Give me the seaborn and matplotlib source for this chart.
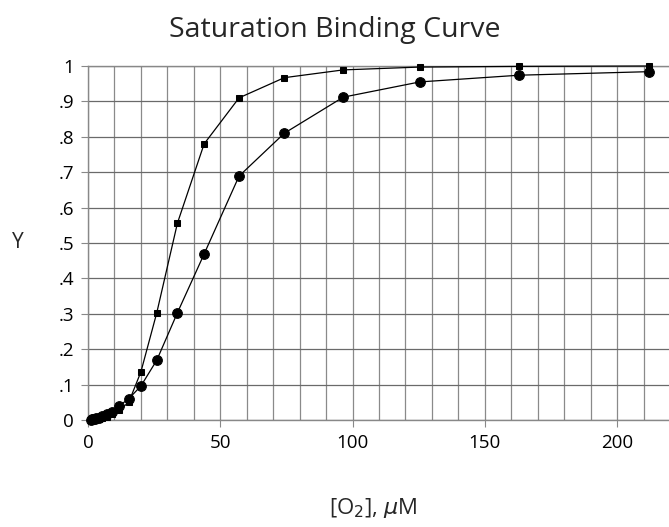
import matplotlib
matplotlib.use("Agg")
import matplotlib.pyplot as plt
import seaborn as sns
import pandas as pd

# ---- data ----
o2_conc = [1.1, 1.5, 1.9, 2.5, 3.2, 4.1, 5.4, 7.0, 9.1, 11.8, 15.4, 20.0,
           26.0, 33.8, 43.9, 57.1, 74.2, 96.5, 125.4, 163.0, 212.0]
y_squares = [0.0002, 0.0004, 0.0007, 0.001, 0.002, 0.003, 0.005, 0.009, 0.016,
             0.028, 0.050, 0.136, 0.303, 0.556, 0.780, 0.910, 0.967, 0.989,
             0.997, 0.999, 1.000]
y_circles = [0.001, 0.0015, 0.002, 0.003, 0.005, 0.007, 0.010, 0.016, 0.024,
             0.040, 0.060, 0.096, 0.169, 0.303, 0.469, 0.689, 0.810, 0.912,
             0.955, 0.974, 0.984]
x_ticks = [0, 50, 100, 150, 200]
y_ticks = [0, 0.1, 0.2, 0.3, 0.4, 0.5, 0.6, 0.7, 0.8, 0.9, 1.0]
y_tick_labels = ["0", ".1", ".2", ".3", ".4", ".5", ".6", ".7", ".8", ".9", "1"]

sns.set_style("white")
plt.rcParams["font.family"] = ["Open Sans", "DejaVu Sans"]
plt.rcParams["mathtext.fontset"] = "dejavusans"

df_sq = pd.DataFrame({"x": o2_conc, "y": y_squares})
df_ci = pd.DataFrame({"x": o2_conc, "y": y_circles})

fig = plt.figure(figsize=(6.69, 5.27), dpi=100)
ax = fig.add_axes([88 / 669, 107 / 527, 582 / 669, 354 / 527])

sns.lineplot(data=df_sq, x="x", y="y", ax=ax, color="black", linewidth=0.9,
             marker="s", markersize=5, markeredgecolor="black",
             markerfacecolor="black", sort=False, clip_on=False, zorder=5)
sns.lineplot(data=df_ci, x="x", y="y", ax=ax, color="black", linewidth=0.9,
             marker="o", markersize=7, markeredgecolor="black",
             markerfacecolor="black", sort=False, clip_on=False, zorder=5)

ax.set_xlim(0, 220)
ax.set_ylim(0, 1.0)

# grid: vertical every 10, horizontal every 0.1
ax.set_xticks(x_ticks)
ax.set_xticks([v for v in range(0, 221, 10)], minor=True)
ax.set_yticks(y_ticks)
ax.set_yticklabels(y_tick_labels)
ax.grid(True, which="both", axis="x", color="#8a8a8a", linewidth=0.9)
ax.grid(True, which="major", axis="y", color="#6a6a6a", linewidth=0.9)
ax.set_axisbelow(True)

for side in ["left", "bottom", "top"]:
    ax.spines[side].set_visible(True)
    ax.spines[side].set_color("#888888")
    ax.spines[side].set_linewidth(1.0)
ax.spines["right"].set_visible(False)

ax.tick_params(axis="both", which="major", direction="out", length=5,
               width=0.8, color="#888888", labelsize=13.5, labelcolor="black",
               pad=5, bottom=True, left=True)
ax.tick_params(axis="x", which="minor", length=0)

ax.set_xlabel("[O$_2$], $\\mu$M", fontsize=16)
ax.xaxis.set_label_coords(0.49, -0.215)
ax.set_ylabel("Y", fontsize=15, rotation=0, va="center", ha="center")
ax.yaxis.set_label_coords(-0.12, 0.5)

fig.text(0.5, 0.943, "Saturation Binding Curve", ha="center", va="center",
         fontsize=20.5)

fig.savefig("out.png", dpi=100)
